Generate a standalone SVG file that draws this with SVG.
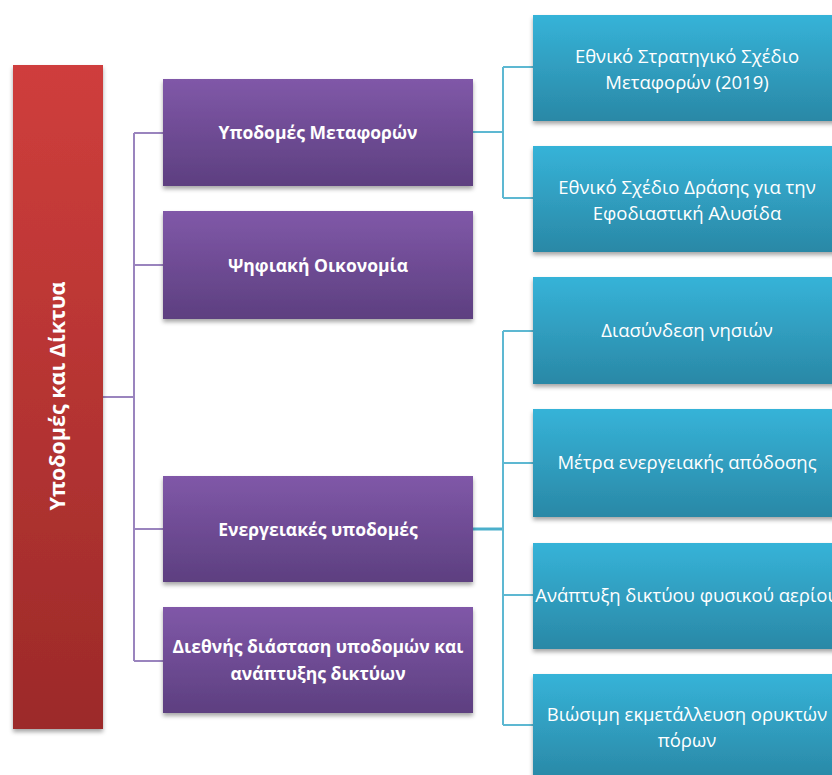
<svg xmlns="http://www.w3.org/2000/svg" width="832" height="775" viewBox="0 0 832 775">
<defs>
<linearGradient id="gRed" x1="0" y1="0" x2="0" y2="1"><stop offset="0" stop-color="#CF3E3C"/><stop offset="1" stop-color="#9C2A29"/></linearGradient>
<linearGradient id="gPur" x1="0" y1="0" x2="0" y2="1"><stop offset="0" stop-color="#8058A8"/><stop offset="1" stop-color="#5D3F80"/></linearGradient>
<linearGradient id="gBlu" x1="0" y1="0" x2="0" y2="1"><stop offset="0" stop-color="#36B3D8"/><stop offset="1" stop-color="#2A88A6"/></linearGradient>
<filter id="sh" x="-10%" y="-10%" width="120%" height="130%"><feDropShadow dx="0" dy="3" stdDeviation="2" flood-color="#000" flood-opacity="0.35"/></filter>
<style>
.red{fill:url(#gRed);filter:url(#sh)}
.pur{fill:url(#gPur);filter:url(#sh)}
.blu{fill:url(#gBlu);filter:url(#sh)}
.tp{font-family:"Open Sans","Liberation Sans",sans-serif;font-weight:bold;font-size:17.5px;fill:#fff;text-anchor:middle}
.tb{font-family:"Open Sans","Liberation Sans",sans-serif;font-size:18.5px;fill:#fff;text-anchor:middle}
.tr{font-family:"Open Sans","Liberation Sans",sans-serif;font-weight:bold;font-size:21.5px;fill:#fff;text-anchor:middle}
.lp{fill:none;stroke:#9A84BE;stroke-width:2}
.lb{fill:none;stroke:#5DB8D2;stroke-width:2}
.lb3{fill:none;stroke:#4BAFCB;stroke-width:3}
</style>
</defs>
<g id="connectors">
<path class="lp" d="M103 397 H134 M134 133 V661 M134 133 H163 M134 265 H163 M134 529 H163 M134 661 H163"/>
<path class="lb" d="M473 132 H503 M503 67 V198 M503 67 H533 M503 198 H533"/>
<path class="lb3" d="M473 529 H503"/>
<path class="lb" d="M503 331 V725 M503 331 H533 M503 463 H533 M503 595 H533 M503 725 H533"/>
</g>
<g id="root"><rect class="red" x="13" y="65" width="90" height="664"/><text class="tr" transform="translate(65 396) rotate(-90)">Υποδομές και Δίκτυα</text></g>
<g id="p1"><rect class="pur" x="163" y="79" width="310" height="107"/><text class="tp" x="318" y="139">Υποδομές Μεταφορών</text></g>
<g id="p2"><rect class="pur" x="163" y="211" width="310" height="108"/><text class="tp" x="318" y="272">Ψηφιακή Οικονομία</text></g>
<g id="p3"><rect class="pur" x="163" y="476" width="310" height="106"/><text class="tp" x="318" y="536">Ενεργειακές υποδομές</text></g>
<g id="p4"><rect class="pur" x="163" y="607" width="310" height="106"/><text class="tp" x="318" y="653">Διεθνής διάσταση υποδομών και</text><text class="tp" x="318" y="680">ανάπτυξης δικτύων</text></g>
<g id="b1"><rect class="blu" x="533" y="15" width="310" height="106"/><text class="tb" x="687" y="63">Εθνικό Στρατηγικό Σχέδιο</text><text class="tb" x="687" y="89">Μεταφορών (2019)</text></g>
<g id="b2"><rect class="blu" x="533" y="146" width="310" height="106"/><text class="tb" x="687" y="194">Εθνικό Σχέδιο Δράσης για την</text><text class="tb" x="687" y="220">Εφοδιαστική Αλυσίδα</text></g>
<g id="b3"><rect class="blu" x="533" y="277" width="310" height="107"/><text class="tb" x="687" y="337">Διασύνδεση νησιών</text></g>
<g id="b4"><rect class="blu" x="533" y="409" width="310" height="108"/><text class="tb" x="687" y="469">Μέτρα ενεργειακής απόδοσης</text></g>
<g id="b5"><rect class="blu" x="533" y="543" width="310" height="106"/><text class="tb" x="687" y="602">Ανάπτυξη δικτύου φυσικού αερίου</text></g>
<g id="b6"><rect class="blu" x="533" y="674" width="310" height="106"/><text class="tb" x="687" y="721">Βιώσιμη εκμετάλλευση ορυκτών</text><text class="tb" x="687" y="747">πόρων</text></g>
</svg>
